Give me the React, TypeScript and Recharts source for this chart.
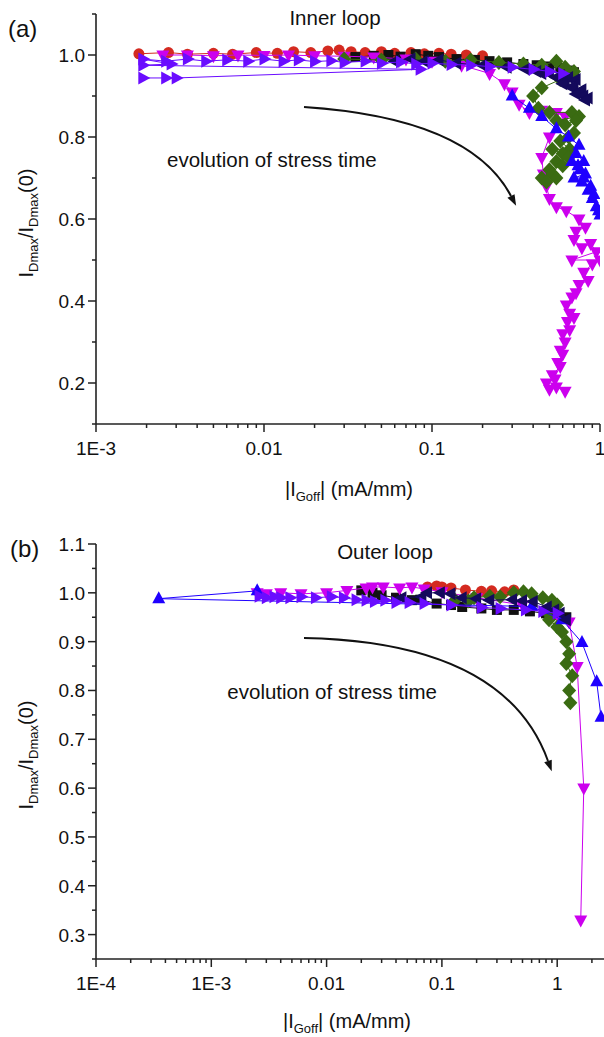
import React from 'react';
import { ScatterChart, Scatter, XAxis, YAxis } from 'recharts';

type Pt = [number, number];

// (a) inner loop — [|IGoff| (mA/mm), IDmax/IDmax(0)]
const innerRed: Pt[] = [
  [0.0018, 1.003], [0.0027, 1.006], [0.0035, 1.002], [0.005, 1.004], [0.0065, 1.002], [0.009, 1.006],
  [0.012, 1.004], [0.015, 1.008], [0.019, 1.006], [0.024, 1.01], [0.028, 1.012], [0.033, 1.008],
  [0.04, 1.006], [0.05, 1.008], [0.06, 1.004], [0.075, 1.006], [0.09, 1.003], [0.11, 1.004],
  [0.13, 1.002], [0.16, 1.0], [0.2, 0.998],
];
const innerBlack: Pt[] = [
  [0.035, 0.995], [0.045, 0.998], [0.055, 1.0], [0.065, 0.996], [0.08, 1.002], [0.095, 0.998],
  [0.11, 0.995], [0.14, 0.99], [0.18, 0.988], [0.22, 0.985], [0.28, 0.982], [0.35, 0.978],
  [0.42, 0.975], [0.5, 0.972], [0.58, 0.968], [0.65, 0.962], [0.7, 0.958], [0.68, 0.95],
];
const innerMagenta: Pt[] = [
  [0.0025, 1.0], [0.0035, 1.0], [0.005, 0.998], [0.007, 1.0], [0.01, 0.999], [0.014, 1.0],
  [0.02, 0.998], [0.03, 0.997], [0.045, 0.995], [0.07, 0.99], [0.1, 0.985], [0.15, 0.975],
  [0.22, 0.955], [0.27, 0.93], [0.3, 0.91], [0.33, 0.88], [0.38, 0.86], [0.45, 0.865],
  [0.55, 0.86], [0.62, 0.85], [0.5, 0.8], [0.45, 0.75], [0.46, 0.71], [0.48, 0.68],
  [0.5, 0.65], [0.55, 0.63], [0.63, 0.62], [0.75, 0.6], [0.82, 0.58], [0.72, 0.57],
  [0.7, 0.55], [0.78, 0.53], [0.88, 0.54], [0.95, 0.52], [0.68, 0.5], [1.0, 0.5],
  [0.9, 0.49], [0.8, 0.47], [0.85, 0.45], [0.75, 0.44], [0.72, 0.42], [0.68, 0.41],
  [0.63, 0.39], [0.66, 0.37], [0.7, 0.36], [0.64, 0.35], [0.66, 0.33], [0.6, 0.32],
  [0.62, 0.3], [0.58, 0.28], [0.6, 0.27], [0.56, 0.25], [0.58, 0.24], [0.52, 0.22],
  [0.54, 0.21], [0.48, 0.2], [0.5, 0.185], [0.55, 0.19], [0.62, 0.18],
];
const innerGreen: Pt[] = [
  [0.03, 0.99], [0.05, 0.988], [0.08, 0.99], [0.12, 0.985], [0.17, 0.988], [0.25, 0.982],
  [0.35, 0.978], [0.45, 0.975], [0.55, 0.985], [0.62, 0.97], [0.7, 0.96], [0.58, 0.94],
  [0.45, 0.92], [0.4, 0.9], [0.43, 0.87], [0.5, 0.86], [0.68, 0.86], [0.75, 0.85],
  [0.55, 0.84], [0.62, 0.83], [0.72, 0.84], [0.7, 0.81], [0.65, 0.8], [0.58, 0.79],
  [0.66, 0.77], [0.52, 0.77], [0.6, 0.76], [0.65, 0.75], [0.55, 0.74], [0.6, 0.73],
  [0.5, 0.72], [0.52, 0.71], [0.45, 0.7], [0.55, 0.7], [0.48, 0.69],
];
const innerBlue: Pt[] = [
  [0.3, 0.9], [0.38, 0.87], [0.45, 0.85], [0.55, 0.82], [0.65, 0.8], [0.75, 0.78],
  [0.72, 0.76], [0.8, 0.74], [0.68, 0.74], [0.74, 0.73], [0.76, 0.72], [0.82, 0.71],
  [0.7, 0.7], [0.8, 0.7], [0.78, 0.69], [0.88, 0.68], [0.85, 0.67], [0.92, 0.66],
  [0.9, 0.65], [0.95, 0.63], [0.98, 0.62], [1.0, 0.61],
];
const innerNavy: Pt[] = [
  [0.06, 0.985], [0.075, 0.99], [0.09, 0.985], [0.11, 0.988], [0.14, 0.98], [0.2, 0.975],
  [0.28, 0.97], [0.36, 0.965], [0.42, 0.96], [0.45, 0.955], [0.5, 0.955], [0.55, 0.945],
  [0.58, 0.95], [0.62, 0.935], [0.65, 0.945], [0.72, 0.94], [0.6, 0.93], [0.7, 0.925],
  [0.68, 0.92], [0.78, 0.915], [0.75, 0.91], [0.72, 0.905], [0.8, 0.9], [0.85, 0.895],
  [0.82, 0.89],
];
const innerViolet: Pt[] = [
  [0.0019, 0.944], [0.0026, 0.944], [0.003, 0.944], [0.085, 0.965], [0.0019, 0.975], [0.0028, 0.978],
  [0.0019, 0.99], [0.0026, 0.985], [0.0035, 0.99], [0.0045, 0.985], [0.006, 0.988], [0.008, 0.985],
  [0.01, 0.99], [0.013, 0.985], [0.016, 0.988], [0.02, 0.984], [0.025, 0.986], [0.03, 0.982],
  [0.04, 0.985], [0.05, 0.98], [0.065, 0.983], [0.08, 0.978], [0.1, 0.98], [0.13, 0.977],
  [0.17, 0.975], [0.22, 0.972], [0.3, 0.97], [0.4, 0.965], [0.5, 0.96], [0.6, 0.955],
];

// (b) outer loop
const outerRed: Pt[] = [
  [0.075, 1.012], [0.09, 1.014], [0.1, 1.012], [0.12, 1.01], [0.16, 1.006], [0.22, 1.003],
  [0.27, 1.004], [0.35, 1.002], [0.42, 1.006],
];
const outerBlack: Pt[] = [
  [0.02, 1.005], [0.025, 1.0], [0.03, 0.995], [0.04, 0.99], [0.055, 0.985], [0.065, 0.986],
  [0.09, 0.978], [0.12, 0.975], [0.15, 0.971], [0.22, 0.968], [0.3, 0.965], [0.42, 0.965],
  [0.58, 0.962], [0.8, 0.958], [1.0, 0.955], [1.2, 0.95],
];
const outerMagenta: Pt[] = [
  [0.0025, 1.0], [0.003, 0.998], [0.004, 1.0], [0.006, 0.998], [0.01, 1.0], [0.015, 1.005],
  [0.022, 1.01], [0.025, 1.012], [0.031, 1.012], [0.043, 1.01], [0.055, 1.012], [0.07, 1.008],
  [0.1, 1.002], [0.2, 0.99], [0.5, 0.975], [1.0, 0.955], [1.27, 0.94], [1.49, 0.849],
  [1.7, 0.6], [1.6, 0.33],
];
const outerGreen: Pt[] = [
  [0.13, 0.985], [0.17, 0.983], [0.19, 0.99], [0.26, 0.993], [0.32, 0.992], [0.42, 1.0],
  [0.51, 1.002], [0.6, 0.998], [0.75, 0.99], [0.9, 0.985], [1.0, 0.975], [0.82, 0.96],
  [0.85, 0.945], [1.0, 0.93], [1.1, 0.92], [1.2, 0.9], [1.27, 0.875], [1.2, 0.855],
  [1.35, 0.83], [1.27, 0.8], [1.3, 0.775],
];
const outerBlue: Pt[] = [
  [0.0025, 1.004], [0.00035, 0.988], [0.6, 0.972], [1.1, 0.945], [1.64, 0.898], [2.2, 0.818],
  [2.4, 0.745],
];
const outerNavy: Pt[] = [
  [0.045, 0.99], [0.067, 0.992], [0.075, 1.0], [0.097, 1.0], [0.12, 0.998], [0.15, 0.99],
  [0.2, 0.988], [0.26, 0.985], [0.41, 0.986], [0.5, 0.984], [0.62, 0.982], [0.82, 0.971],
  [0.95, 0.965], [1.06, 0.958], [1.2, 0.945],
];
const outerViolet: Pt[] = [
  [0.0026, 0.993], [0.003, 0.99], [0.0035, 0.992], [0.004, 0.99], [0.0048, 0.99], [0.006, 0.992],
  [0.008, 0.99], [0.011, 0.992], [0.014, 0.99], [0.018, 0.986], [0.022, 0.985], [0.026, 0.982],
  [0.032, 0.985], [0.04, 0.98], [0.052, 0.98], [0.07, 0.978], [0.12, 0.975], [0.22, 0.97],
  [0.32, 0.968], [0.53, 0.965], [0.75, 0.962], [1.0, 0.958],
];

// ticks
const topXMajor = [0.001, 0.01, 0.1, 1];
const topXLabels = ['1E-3', '0.01', '0.1', '1'];
const botXMajor = [0.0001, 0.001, 0.01, 0.1, 1, 10];
const botXLabels = ['1E-4', '1E-3', '0.01', '0.1', '1', ''];
const minorSteps = [2, 3, 4, 5, 6, 7, 8, 9];
const topYTicks = [0.1, 0.2, 0.3, 0.4, 0.5, 0.6, 0.7, 0.8, 0.9, 1.0, 1.1];
const topYMajor = [0.2, 0.4, 0.6, 0.8, 1.0];
const botYTicks = [0.25, 0.3, 0.35, 0.4, 0.45, 0.5, 0.55, 0.6, 0.65, 0.7, 0.75, 0.8, 0.85, 0.9, 0.95, 1.0, 1.05, 1.1];
const botYMajor = [0.3, 0.4, 0.5, 0.6, 0.7, 0.8, 0.9, 1.0, 1.1];

const FONT = '"Liberation Sans", Arial, sans-serif';
const AXIS = '#222';

const styles = [
  { color: '#d42a20', kind: 'circle' },
  { color: '#111111', kind: 'square' },
  { color: '#cc00ee', kind: 'down' },
  { color: '#3a6b12', kind: 'diamond' },
  { color: '#1f00ff', kind: 'up' },
  { color: '#140a5c', kind: 'left' },
  { color: '#6a0cff', kind: 'right' },
];
const innerSets = [innerRed, innerBlack, innerMagenta, innerGreen, innerBlue, innerNavy, innerViolet];
const outerSets = [outerRed, outerBlack, outerMagenta, outerGreen, outerBlue, outerNavy, outerViolet];

const withMinors = (majors: number[]) =>
  majors.flatMap((m, i) => (i === majors.length - 1 ? [m] : [m, ...minorSteps.map((k) => m * k)]));

const marker = (kind: string, color: string) => (props: any) => {
  const { cx, cy } = props;
  if (cx == null || cy == null) return <g />;
  switch (kind) {
    case 'circle':
      return <circle cx={cx} cy={cy} r={5.5} fill={color} />;
    case 'square':
      return <rect x={cx - 5} y={cy - 5} width={10} height={10} fill={color} />;
    case 'diamond':
      return <polygon points={`${cx},${cy - 7.5} ${cx + 7},${cy} ${cx},${cy + 7.5} ${cx - 7},${cy}`} fill={color} />;
    case 'up':
      return <polygon points={`${cx},${cy - 7.5} ${cx + 6.5},${cy + 4.5} ${cx - 6.5},${cy + 4.5}`} fill={color} />;
    case 'down':
      return <polygon points={`${cx},${cy + 7.5} ${cx + 6.5},${cy - 4.5} ${cx - 6.5},${cy - 4.5}`} fill={color} />;
    case 'left':
      return <polygon points={`${cx - 7.5},${cy} ${cx + 4.5},${cy - 6.5} ${cx + 4.5},${cy + 6.5}`} fill={color} />;
    default:
      return <polygon points={`${cx + 7.5},${cy} ${cx - 4.5},${cy - 6.5} ${cx - 4.5},${cy + 6.5}`} fill={color} />;
  }
};

const xTick = (majors: number[], labels: string[]) => (p: any) => {
  const v = p.payload.value;
  const i = majors.findIndex((m) => Math.abs(Math.log10(m) - Math.log10(v)) < 1e-6);
  return (
    <g>
      <line x1={p.x} x2={p.x} y1={p.y} y2={p.y + (i >= 0 ? 8 : 4)} stroke={AXIS} strokeWidth={1.5} />
      {i >= 0 && labels[i] && (
        <text x={p.x} y={p.y + 31} textAnchor="middle" fontSize={19} fontFamily={FONT} fill="#111">
          {labels[i]}
        </text>
      )}
    </g>
  );
};

const yTick = (majors: number[]) => (p: any) => {
  const v = p.payload.value;
  const major = majors.some((m) => Math.abs(m - v) < 1e-6);
  return (
    <g>
      <line x1={p.x} x2={p.x - (major ? 8 : 4)} y1={p.y} y2={p.y} stroke={AXIS} strokeWidth={1.5} />
      {major && (
        <text x={p.x - 11} y={p.y + 7} textAnchor="end" fontSize={19} fontFamily={FONT} fill="#111">
          {v.toFixed(1)}
        </text>
      )}
    </g>
  );
};

const Panel = ({ sets, xDomain, xMajor, xLabels, yDomain, yTicks, yMajor, width, height, margin, xHeight }: any) => (
  <ScatterChart width={width} height={height} margin={margin}>
    <XAxis
      type="number"
      dataKey="x"
      scale="log"
      domain={xDomain}
      allowDataOverflow
      ticks={withMinors(xMajor)}
      interval={0}
      tick={xTick(xMajor, xLabels)}
      tickLine={false}
      tickSize={0}
      tickMargin={0}
      height={xHeight}
      axisLine={{ stroke: AXIS, strokeWidth: 1.6 }}
    />
    <YAxis
      type="number"
      dataKey="y"
      domain={yDomain}
      allowDataOverflow
      ticks={yTicks}
      interval={0}
      tick={yTick(yMajor)}
      tickLine={false}
      tickSize={0}
      tickMargin={0}
      width={96}
      axisLine={{ stroke: AXIS, strokeWidth: 1.6 }}
    />
    {sets.map((pts: Pt[], i: number) => (
      <Scatter
        key={i}
        data={pts.map(([x, y]) => ({ x, y }))}
        fill={styles[i].color}
        line={{ stroke: styles[i].color, strokeWidth: 1 }}
        lineType="joint"
        shape={marker(styles[i].kind, styles[i].color)}
        isAnimationActive={false}
      />
    ))}
  </ScatterChart>
);

const arrowHead = (cx: number, cy: number, ex: number, ey: number) => {
  const dx = ex - cx;
  const dy = ey - cy;
  const l = Math.hypot(dx, dy);
  const ux = dx / l;
  const uy = dy / l;
  const tx = ex + ux * 11;
  const ty = ey + uy * 11;
  return `${tx},${ty} ${ex - uy * 4},${ey + ux * 4} ${ex + uy * 4},${ey - ux * 4}`;
};

const YTitle = ({ x, y }: { x: number; y: number }) => (
  <text transform={`translate(${x},${y}) rotate(-90)`} textAnchor="middle" fontSize={20} fontFamily={FONT} fill="#111">
    <tspan>I</tspan>
    <tspan fontSize={13} dy={5}>Dmax</tspan>
    <tspan dy={-5}>/I</tspan>
    <tspan fontSize={13} dy={5}>Dmax</tspan>
    <tspan dy={-5}>(0)</tspan>
  </text>
);

const XTitle = ({ x, y }: { x: number; y: number }) => (
  <text x={x} y={y} textAnchor="middle" fontSize={20} fontFamily={FONT} fill="#111">
    <tspan>|I</tspan>
    <tspan fontSize={13} dy={5}>Goff</tspan>
    <tspan dy={-5}>| (mA/mm)</tspan>
  </text>
);

const App = () => (
  <div style={{ position: 'absolute', left: 0, top: 0, width: 604, height: 1037, overflow: 'hidden', background: '#fff', fontFamily: FONT }}>
    <div style={{ position: 'absolute', left: 0, top: 0 }}>
      <Panel
        sets={innerSets}
        xDomain={[0.001, 1]}
        xMajor={topXMajor}
        xLabels={topXLabels}
        yDomain={[0.1, 1.1]}
        yTicks={topYTicks}
        yMajor={topYMajor}
        width={610}
        height={500}
        margin={{ top: 14, right: 10, bottom: 0, left: 0 }}
        xHeight={76}
      />
    </div>
    <div style={{ position: 'absolute', left: 0, top: 500 }}>
      <Panel
        sets={outerSets}
        xDomain={[0.0001, 10]}
        xMajor={botXMajor}
        xLabels={botXLabels}
        yDomain={[0.25, 1.1]}
        yTicks={botYTicks}
        yMajor={botYMajor}
        width={700}
        height={537}
        margin={{ top: 44, right: 27.5, bottom: 0, left: 0 }}
        xHeight={78}
      />
    </div>
    <svg width={604} height={1037} style={{ position: 'absolute', left: 0, top: 0, pointerEvents: 'none' }}>
      <text x={8} y={37} fontSize={24} fontFamily={FONT} fill="#111">(a)</text>
      <text x={10} y={557} fontSize={24} fontFamily={FONT} fill="#111">(b)</text>
      <text x={335} y={25} textAnchor="middle" fontSize={20.5} fontFamily={FONT} fill="#111">Inner loop</text>
      <text x={385} y={559} textAnchor="middle" fontSize={20.5} fontFamily={FONT} fill="#111">Outer loop</text>
      <text x={167} y={167} fontSize={20.5} fontFamily={FONT} fill="#111">evolution of stress time</text>
      <text x={437} y={699} textAnchor="end" fontSize={20.5} fontFamily={FONT} fill="#111">evolution of stress time</text>
      <path d="M304,107 Q470,118 511,196" fill="none" stroke="#111" strokeWidth={2} />
      <polygon points={arrowHead(470, 118, 511, 196)} fill="#111" />
      <path d="M304,638 Q505,642 548,761" fill="none" stroke="#111" strokeWidth={2} />
      <polygon points={arrowHead(505, 642, 548, 761)} fill="#111" />
      <YTitle x={33} y={223} />
      <YTitle x={33} y={755} />
      <XTitle x={349} y={496} />
      <XTitle x={347} y={1028} />
    </svg>
  </div>
);

export default App;
